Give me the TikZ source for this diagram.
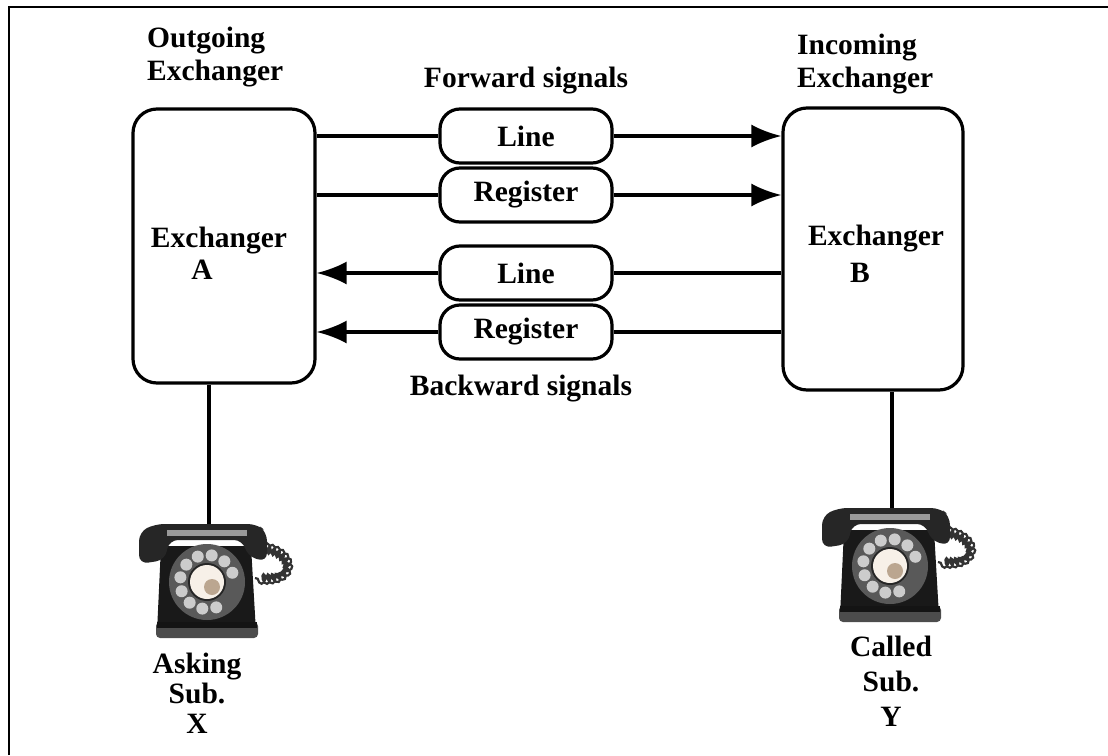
\documentclass[tikz,border=0pt]{standalone}
\usepackage{fontspec}
\setmainfont{Liberation Serif}
\usetikzlibrary{arrows.meta,decorations.pathmorphing}

\tikzset{
  exbox/.style={draw, line width=3.2pt, rounded corners=24pt, inner sep=0pt},
  sigbox/.style={draw, line width=3.2pt, rounded corners=20pt, minimum width=172pt,
    minimum height=54pt, inner sep=0pt, font=\lbl},
  sig/.style={line width=3.2pt, -{Latex[length=30pt,width=23pt]}},
  wire/.style={line width=3.2pt},
  txt/.style={inner sep=0pt, font=\lbl},
  phone/.pic={
    % curly cord on the right
    \draw[black!80, line width=2.2pt, decorate,
      decoration={coil, aspect=0.5, segment length=5pt, amplitude=5pt}]
      (56,-34) .. controls (88,-30) and (90,2) .. (48,-4);
    % body and base
    \fill[black!90, rounded corners=6pt] (-46,-36) -- (44,-36) -- (49,50) -- (-50,50) -- cycle;
    \fill[black!70, rounded corners=4pt] (-51,40) rectangle (51,56);
    \fill[black!92] (-50,40) rectangle (50,46);
    % handset on the cradle
    \fill[black!85, rounded corners=9pt] (-68,-18) -- (-68,-50) -- (-52,-58) -- (50,-58)
      -- (60,-50) -- (60,-20) -- (40,-26) -- (36,-42) -- (-38,-42) -- (-42,-22) -- cycle;
    \fill[black!40] (-40,-52) rectangle (40,-46);
    % dial
    \fill[black!65] (0,0) circle (38);
    \foreach \a in {70,100,...,340}
      \fill[black!20] (\a:27) circle (6);
    \fill[black!85] (0,0) circle (19);
    \fill[brown!12!white] (0,0) circle (17);
    \fill[brown!60!black, opacity=0.45] (5,5) circle (8);
    \coordinate (-top) at (2,-58);
  }
}
\newcommand\lbl{\fontsize{29.5}{33}\selectfont\bfseries}

\begin{document}
\begin{tikzpicture}[x=1pt, y=-1pt]
\useasboundingbox (0,0) rectangle (1108,755);
\draw[line width=2.5pt] (9,755) -- (9,7) -- (1108,7);

% exchangers
\node[exbox, minimum width=182pt, minimum height=274pt] (exA) at (224,246) {};
\node[exbox, minimum width=180pt, minimum height=282pt] (exB) at (873,249) {};
\node[txt, anchor=base] (exAname) at (219,247) {Exchanger};
\node[txt, anchor=base] (exAid) at (202,279) {A};
\node[txt, anchor=base] (exBname) at (876,245) {Exchanger};
\node[txt, anchor=base] (exBid) at (860,282) {B};

\node[txt, align=left, anchor=north west] (outLbl) at (147,27) {Outgoing\\Exchanger};
\node[txt, align=left, anchor=north west] (inLbl) at (797,34) {Incoming\\Exchanger};
\node[txt, anchor=base] (fwdLbl) at (526,87) {Forward signals};
\node[txt, anchor=base] (bwdLbl) at (521,395) {Backward signals};

% signal boxes
\node[sigbox] (fwdLine) at (526,136) {Line};
\node[sigbox] (fwdReg) at (526,195) {Register};
\node[sigbox] (bwdLine) at (526,273) {Line};
\node[sigbox] (bwdReg) at (526,332) {Register};

\draw[wire] (exA.east |- fwdLine) -- (fwdLine);
\draw[sig] (fwdLine) -- (exB.west |- fwdLine);
\draw[wire] (exA.east |- fwdReg) -- (fwdReg);
\draw[sig] (fwdReg) -- (exB.west |- fwdReg);
\draw[wire] (exB.west |- bwdLine) -- (bwdLine);
\draw[sig] (bwdLine) -- (exA.east |- bwdLine);
\draw[wire] (exB.west |- bwdReg) -- (bwdReg);
\draw[sig] (bwdReg) -- (exA.east |- bwdReg);

% subscribers
\pic (telX) at (207,582) {phone};
\pic (telY) at (890,566) {phone};
\draw[wire] (exA.south -| telX-top) -- (telX-top);
\draw[wire] (exB.south -| telY-top) -- (telY-top);

\node[txt, align=center, anchor=north, font=\fontsize{29.5}{30}\selectfont\bfseries]
  (subX) at (197,653) {Asking\\Sub.\\X};
\node[txt, align=center, anchor=north, font=\fontsize{29.5}{35}\selectfont\bfseries]
  (subY) at (891,636) {Called\\Sub.\\Y};
\end{tikzpicture}
\end{document}
